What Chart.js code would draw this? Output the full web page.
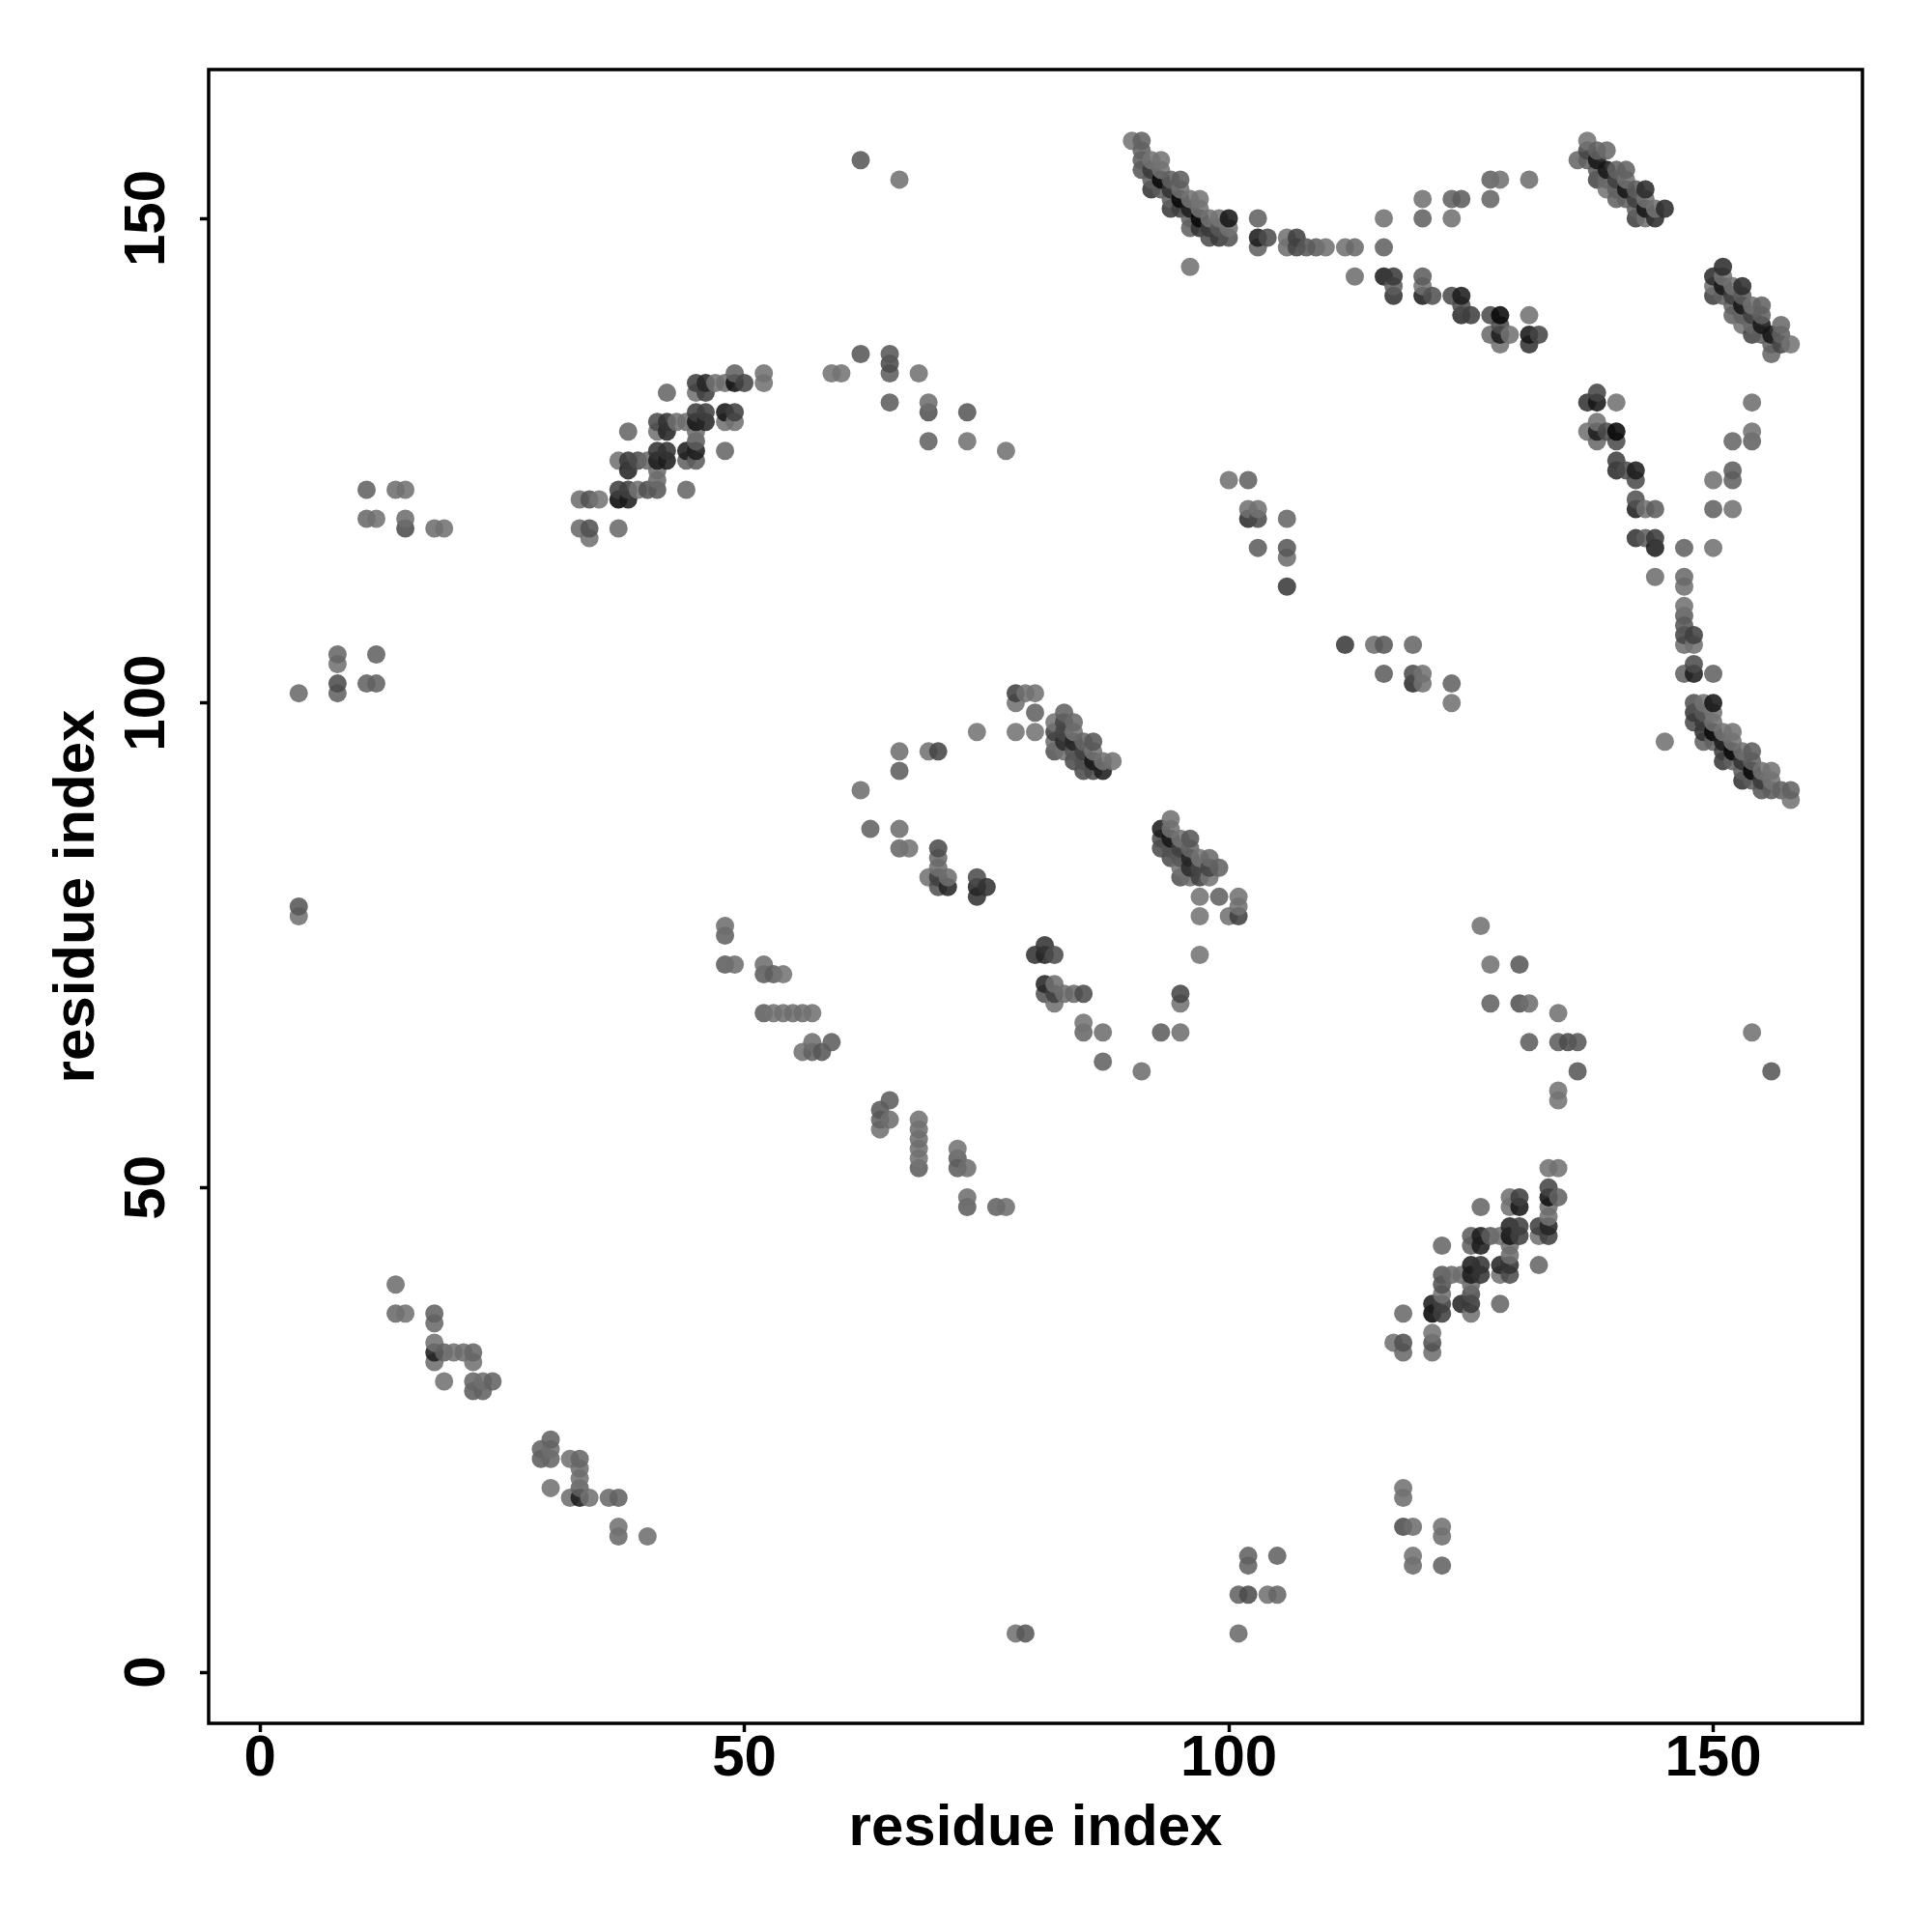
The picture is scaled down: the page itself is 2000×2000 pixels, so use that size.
<!DOCTYPE html>
<html>
<head>
<meta charset="utf-8">
<title>residue contact map</title>
<script src="https://cdn.jsdelivr.net/npm/chart.js@4/dist/chart.umd.min.js"></script>
<style>
  html, body { margin: 0; padding: 0; background: #fff; }
  canvas { display: block; }
</style>
</head>
<body>
<canvas id="contactMap" width="2000" height="2000"></canvas>
<script>
var contactI = [
  4,4,4,8,8,8,8,11,12,12,
  11,14,15,11,12,15,15,18,19,
  14,14,15,18,18,18,18,18,19,20,21,22,22,19,22,22,23,23,24,
  33,34,35,37,38,37,38,39,40,41,41,41,44,33,34,34,37,
  37,38,38,39,40,41,42,41,42,44,45,44,45,45,45,48,38,
  41,42,43,44,45,46,45,46,48,49,48,49,41,42,
  42,45,46,47,48,49,50,52,45,46,49,52,
  59,60,62,65,65,65,68,65,69,69,73,69,73,77,62,66,
  48,48,48,49,52,52,53,54,52,53,54,55,56,57,57,59,56,57,58,
  66,69,70,66,62,63,66,66,67,70,70,70,69,70,71,70,71,74,74,74,75,
  74,78,79,80,78,80,78,80,
  83,82,83,84,82,83,84,84,85,86,82,83,82,83,84,85,86,84,85,86,87,88,85,86,87,
  90,91,91,91,91,92,93,92,93,93,92,92,93,94,95,94,95,95,94,94,95,
  96,96,97,97,96,97,98,99,100,96,97,98,99,100,98,99,100,
  96,103,103,104,103,106,106,107,107,108,109,110,112,113,113,
  116,116,116,117,117,117,120,120,120,121,120,120,123,124,124,124,125,123,123,
  124,127,128,131,127,127,128,131,128,127,128,129,131,132,128,131,
  100,102,102,103,102,103,103,106,106,106,106,
  136,137,137,137,138,139,138,138,139,138,139,139,140,140,141,141,141,140,140,141,
  142,143,143,142,143,142,143,144,144,145,142
];
var contactJ = [
  101,79,78,105,104,102,101,102,102,105,
  122,122,122,119,119,119,118,118,118,
  40,37,37,37,36,34,33,32,33,33,33,33,32,30,30,29,30,29,30,
  121,121,121,122,122,121,121,122,122,122,123,124,122,118,118,117,118,
  125,125,124,125,125,125,125,126,126,125,125,126,126,127,128,126,128,
  129,129,129,129,129,129,130,130,130,130,129,129,128,128,
  132,133,133,133,133,133,133,133,132,132,134,134,
  134,134,136,136,135,134,134,131,131,130,130,127,127,126,156,154,
  77,76,73,73,73,72,72,72,68,68,68,68,68,68,65,65,64,64,64,
  95,95,95,93,91,87,87,85,85,85,84,83,82,82,82,81,81,82,81,80,81,
  97,101,101,101,100,99,97,97,
  99,98,98,98,97,97,97,96,96,96,96,96,95,95,95,95,95,94,94,94,94,94,93,93,93,
  158,158,157,156,155,156,156,155,155,154,154,153,153,154,154,153,153,152,152,151,151,
  151,152,152,151,150,150,150,150,150,149,149,149,149,149,148,148,148,
  145,150,148,148,147,148,147,148,147,147,147,147,147,147,144,
  150,147,144,144,143,142,144,143,142,142,152,150,142,142,141,140,140,152,150,
  152,154,154,154,152,140,140,140,139,138,138,138,138,138,137,137,
  123,123,120,120,119,119,116,119,116,115,112,
  156,158,157,156,157,157,156,155,155,154,154,153,154,155,155,154,153,153,152,152,
  153,153,152,152,151,150,150,150,151,151,151
];
// contact strength, 0 is the palest dot and 1 the darkest
var contactScore = [
  .2,.4,.1,.25,.1,.5,.3,.3,.3,.3,
  .3,.15,.1,.2,.1,.15,.5,.15,.1,
  .15,.2,.1,.3,.2,.1,.85,.15,.3,.1,.15,.25,.1,.1,.25,.35,.15,.3,.3,
  .15,.45,.05,.6,.6,1,.85,.1,.45,.4,.2,.15,.25,.2,.45,.1,.2,
  .1,.65,.8,.5,.2,.85,.85,.7,.7,.3,.35,.85,.85,.35,.15,.25,.25,
  .5,.7,.15,.15,.9,.8,.6,.6,.9,.6,.1,.1,.1,.8,
  .25,.6,.8,.1,.15,.95,.55,.1,.1,.6,.3,.1,
  .05,.05,.4,.4,.5,.35,.1,.35,.15,.45,.4,.3,.1,.1,.4,.1,
  .15,.3,.35,.15,.15,.35,.35,.05,.35,.05,.1,.15,.15,.1,.15,.35,.1,.3,.4,
  .15,.1,.55,.35,.15,.3,.15,.25,.05,.5,.2,.15,.1,.6,.15,.45,.8,.5,.8,.7,.7,
  .05,.6,.1,.1,.1,.3,.05,.05,
  .3,.05,.55,.2,.6,.55,.05,.8,.25,.4,.15,.75,.45,.1,.4,.6,.05,.5,.45,.9,.1,.1,.5,.5,.85,
  .05,.3,.3,.35,.4,.05,.05,.65,.1,1,.35,.7,.35,.3,.35,.7,.1,1,.3,.65,.6,
  .85,.05,.05,.05,.3,1,.1,.05,.9,.3,.7,.65,.4,.1,.5,.65,.45,
  .1,.3,.85,.5,.3,.1,.15,.6,.55,.4,.35,.1,.1,.2,.15,
  .1,.3,.85,.65,.35,.7,.35,.1,.85,.45,.1,.3,.5,.85,.5,.75,.6,.3,.1,
  .35,.3,.1,.15,.25,.5,1,.1,.5,.2,.85,.1,.9,.55,.1,.7,
  .1,.3,.1,.1,.75,.5,.35,.25,.4,.15,.65,
  .25,.05,.55,.3,.3,.2,.9,.35,.9,.55,.2,.05,.6,.3,.3,.1,.9,.3,.3,.3,
  .35,.75,.1,.6,.9,.6,.1,.75,.1,.75,.3
];
var tickValues = [0, 50, 100, 150];
var axisLabel = "residue index";

// both triangles, sorted so later residues are painted on top
var points = [];
contactI.forEach(function (i, k) {
  points.push({ x: i, y: contactJ[k], score: contactScore[k] });
  points.push({ x: contactJ[k], y: i, score: contactScore[k] });
});
points.sort(function (a, b) { return a.x - b.x || a.y - b.y; });

function shade(score) {
  var g = Math.round(118 - 110 * Math.pow(score, 1.4));
  return "rgba(" + g + "," + g + "," + g + ",0.88)";
}

function setTicks(scale) {
  scale.ticks = tickValues.map(function (v) { return { value: v }; });
}

var frameBox = {
  id: "frameBox",
  afterDraw: function (chart) {
    var a = chart.chartArea, c = chart.ctx;
    c.save();
    c.strokeStyle = "#000";
    c.lineWidth = 3.5;
    c.strokeRect(a.left, a.top, a.right - a.left, a.bottom - a.top);
    c.restore();
  }
};

var tickFont = { family: "'Liberation Sans'", size: 60, weight: "bold" };

new Chart(document.getElementById("contactMap"), {
  type: "scatter",
  data: {
    datasets: [{
      data: points,
      pointRadius: 9.5,
      pointBorderWidth: 0,
      pointBackgroundColor: points.map(function (p) { return shade(p.score); })
    }]
  },
  plugins: [frameBox],
  options: {
    responsive: false,
    devicePixelRatio: 1,
    animation: false,
    layout: { padding: { top: 72, right: 72, left: 0, bottom: 0 } },
    plugins: { legend: { display: false }, tooltip: { enabled: false } },
    scales: {
      x: {
        type: "linear",
        min: -5.3,
        max: 165.4,
        afterBuildTicks: setTicks,
        afterFit: function (s) { s.height = 216; },
        grid: { drawOnChartArea: false, tickLength: 9, tickWidth: 3.5, tickColor: "#000" },
        border: { display: false },
        ticks: { color: "#000", font: tickFont, padding: -7.5, maxRotation: 0, autoSkip: false },
        title: { display: true, text: axisLabel, color: "#000", font: tickFont, padding: { top: 0, bottom: 71 } }
      },
      y: {
        type: "linear",
        min: -5.28,
        max: 165.35,
        afterBuildTicks: setTicks,
        afterFit: function (s) { s.width = 216; },
        grid: { drawOnChartArea: false, tickLength: 9, tickWidth: 3.5, tickColor: "#000" },
        border: { display: false },
        ticks: { color: "#000", font: tickFont, padding: 3, minRotation: 90, maxRotation: 90, crossAlign: "center", autoSkip: false },
        title: { display: true, text: axisLabel, color: "#000", font: tickFont, padding: { top: 44.5, bottom: 0 } }
      }
    }
  }
});
</script>
</body>
</html>
